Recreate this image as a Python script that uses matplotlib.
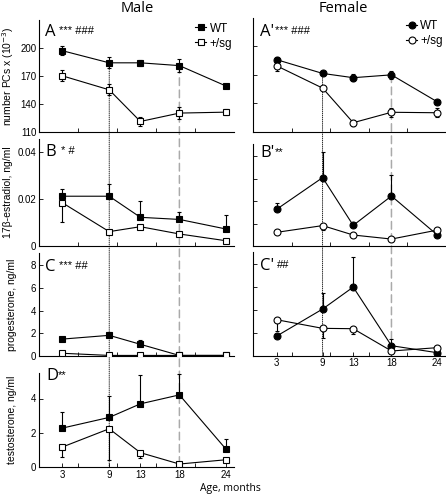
import matplotlib
matplotlib.use("Agg")
import matplotlib.pyplot as plt
from matplotlib.patches import ConnectionPatch
from matplotlib.lines import Line2D

plt.rcParams['font.family'] = ['Liberation Sans', 'DejaVu Sans']

ages = [3, 9, 13, 18, 24]

# A - Purkinje cell numbers (x10^-3)
pc_m_wt = [197, 184, 184, 181, 159]
pc_m_wt_err = [5, 6, 3, 7, 2]
pc_m_sg = [170, 155, 121, 130, 131]
pc_m_sg_err = [6, 6, 5, 6, 3]
pc_f_wt = [186, 171.5, 167, 170, 141.5]
pc_f_wt_err = [3, 2, 4, 4, 2]
pc_f_sg = [179.5, 156, 119.5, 130.5, 130]
pc_f_sg_err = [5, 2, 3, 5, 5]

# B - estradiol
e2_m_wt = [0.0211, 0.0211, 0.0121, 0.0112, 0.0071]
e2_m_wt_err = [0.003, 0.005, 0.007, 0.003, 0.006]
e2_m_sg = [0.0183, 0.006, 0.0081, 0.005, 0.0021]
e2_m_sg_err = [0.008, 0.001, 0.001, 0.001, 0.0005]
e2_f_wt = [0.0164, 0.0305, 0.0092, 0.0223, 0.0049]
e2_f_wt_err = [0.003, 0.0113, 0.001, 0.0094, 0.0005]
e2_f_sg = [0.0061, 0.0091, 0.0049, 0.0031, 0.0071]
e2_f_sg_err = [0.0005, 0.002, 0.0005, 0.0005, 0.0005]

# C - progesterone
p4_m_wt = [1.49, 1.82, 1.03, 0.05, 0.05]
p4_m_wt_err = [0.1, 0.3, 0.35, 0.05, 0.05]
p4_m_sg = [0.24, 0.05, 0.05, 0.05, 0.05]
p4_m_sg_err = [0.05, 0.05, 0.05, 0.05, 0.05]
p4_f_wt = [1.71, 4.06, 5.97, 0.87, 0.26]
p4_f_wt_err = [0.2, 1.4, 2.6, 0.55, 0.1]
p4_f_sg = [3.13, 2.38, 2.35, 0.41, 0.70]
p4_f_sg_err = [1.0, 0.8, 0.45, 0.1, 0.1]

# D - testosterone
t_m_wt = [2.28, 2.90, 3.69, 4.21, 1.04]
t_m_wt_err = [0.94, 1.23, 1.66, 1.2, 0.58]
t_m_sg = [1.18, 2.24, 0.85, 0.19, 0.44]
t_m_sg_err = [0.57, 1.82, 0.3, 0.05, 0.15]

W, H = 446, 496
fig = plt.figure(figsize=(W / 100, H / 100), dpi=100)


def box(x0, x1, top, bottom):
    return [x0 / W, 1 - bottom / H, (x1 - x0) / W, (bottom - top) / H]


axA = fig.add_axes(box(39, 234, 20, 131.7))
axB = fig.add_axes(box(39, 234, 139, 245.7))
axC = fig.add_axes(box(39, 234, 252.7, 356))
axD = fig.add_axes(box(39, 234, 372.7, 467.3))
axA2 = fig.add_axes(box(253, 445, 18, 131.7))
axB2 = fig.add_axes(box(253, 445, 144, 246))
axC2 = fig.add_axes(box(253, 445, 251.7, 355.7))

MS = {'s': 4.6, 'o': 5.0}


def series(ax, y, err, marker, face, up, lo):
    if up and lo:
        yerr = [err, err]
    elif up:
        yerr = [[0] * len(err), err]
    else:
        yerr = [err, [0] * len(err)]
    ax.errorbar(ages, y, yerr=yerr, fmt='-', color='black', lw=0.8,
                elinewidth=0.8, capsize=1.5, capthick=0.8,
                marker=marker, ms=MS[marker],
                mfc=face, mec='black', mew=0.8, zorder=3)


def pair(ax, wt, wt_err, sg, sg_err, marker, both=False):
    series(ax, wt, wt_err, marker, 'black', True, both)
    series(ax, sg, sg_err, marker, 'white', both, True)


pair(axA, pc_m_wt, pc_m_wt_err, pc_m_sg, pc_m_sg_err, 's', both=True)
pair(axB, e2_m_wt, e2_m_wt_err, e2_m_sg, e2_m_sg_err, 's')
pair(axC, p4_m_wt, p4_m_wt_err, p4_m_sg, p4_m_sg_err, 's')
pair(axD, t_m_wt, t_m_wt_err, t_m_sg, t_m_sg_err, 's')
pair(axA2, pc_f_wt, pc_f_wt_err, pc_f_sg, pc_f_sg_err, 'o', both=True)
pair(axB2, e2_f_wt, e2_f_wt_err, e2_f_sg, e2_f_sg_err, 'o')
pair(axC2, p4_f_wt, p4_f_wt_err, p4_f_sg, p4_f_sg_err, 'o')

limits = {axA: (110, 230), axA2: (110, 230), axB: (0, 0.0455), axB2: (0, 0.0455),
          axC: (0, 9.1), axC2: (0, 9.05), axD: (0, 5.5)}
yticks = {axA: [110, 140, 170, 200], axA2: [110, 140, 170, 200],
          axB: [0, 0.02, 0.04], axB2: [0, 0.01, 0.02, 0.03, 0.04],
          axC: [0, 2, 4, 6, 8], axC2: [0, 2, 4, 6, 8], axD: [0, 2, 4]}

for ax in [axA, axB, axC, axD, axA2, axB2, axC2]:
    ax.set_ylim(*limits[ax])
    ax.set_yticks(yticks[ax])
    ax.set_xlim(0, 25) if ax in (axA, axB, axC, axD) else ax.set_xlim(-0.1, 25)
    for s in ['top', 'right']:
        ax.spines[s].set_visible(False)
    for s in ['left', 'bottom']:
        ax.spines[s].set_linewidth(0.8)
    ax.patch.set_visible(False)
    ax.tick_params(direction='in', length=3, width=0.6, labelsize=7, pad=2)
    ax.tick_params(which='minor', direction='in', length=3, width=0.6)
    if ax in (axD, axC2):
        ax.set_xticks(ages)
        ax.set_xticks([5, 10, 15, 20], minor=True)
    else:
        ax.set_xticks([5, 10, 15, 20])
        ax.set_xticklabels([])

axB.set_yticklabels(['0', '0.02', '0.04'])
for ax in (axA2, axB2, axC2):
    ax.set_yticklabels([])

axA.set_ylabel('number PCs x (10$^{-3}$)', fontsize=7.5, labelpad=3)
axB.set_ylabel('17β-estradiol, ng/ml', fontsize=7.5, labelpad=3)
axC.set_ylabel('progesterone, ng/ml', fontsize=7.5, labelpad=10)
axD.set_ylabel('testosterone, ng/ml', fontsize=7.5, labelpad=10)

fig.text(137 / W, 1 - 9 / H, 'Male', ha='center', va='center', fontsize=10.5,
         family=['Open Sans', 'DejaVu Sans'])
fig.text(343 / W, 1 - 9 / H, 'Female', ha='center', va='center', fontsize=10.5,
         family=['Open Sans', 'DejaVu Sans'])
fig.text(230 / W, 1 - 489 / H, 'Age, months', ha='center', va='center', fontsize=7.5,
         family=['Open Sans', 'DejaVu Sans'])

# panel letters and significance marks
labels = [(45, 32, 'A', 59, '*** ###'), (45, 152, 'B', 61, '* #'),
          (45, 267, 'C', 59, '*** ##'), (46, 376, 'D', 58, '**'),
          (260, 32, "A'", 275, '*** ###'), (260, 153, "B'", 275, '**'),
          (260, 266, "C'", 277, '##')]
for lx, ly, letter, sx, stars in labels:
    fig.text(lx / W, 1 - ly / H, letter, ha='left', va='center', fontsize=12,
             family=['Open Sans', 'DejaVu Sans'])
    fig.text(sx / W, 1 - (ly - 1) / H, stars, ha='left', va='center', fontsize=8)

# legends
for ax, marker in [(axA, 's'), (axA2, 'o')]:
    handles = [Line2D([], [], color='black', lw=0.8, marker=marker, ms=MS[marker],
                      mfc=face, mec='black', mew=0.8) for face in ('black', 'white')]
    ax.legend(handles=handles, labels=['WT', '+/sg'], loc='upper right',
              frameon=False, fontsize=8.5, handlelength=0.9, handletextpad=0.3,
              labelspacing=0.25, borderaxespad=0.1, bbox_to_anchor=(1.02, 1.03))

# vertical reference lines at 9 and 18 months, running across panels
for top, bottom, wt in [(axA, axD, pc_m_wt), (axA2, axC2, pc_f_wt)]:
    for i, style in [(1, dict(linestyle=(0, (1, 1.5)), color='black', lw=0.6)),
                     (3, dict(linestyle=(0, (5, 3)), color='#aaaaaa', lw=1.1))]:
        con = ConnectionPatch(xyA=(ages[i], wt[i]), coordsA=top.transData,
                              xyB=(ages[i], 0), coordsB=bottom.transData,
                              zorder=-1, **style)
        fig.add_artist(con)

fig.savefig('out.png', dpi=100)
